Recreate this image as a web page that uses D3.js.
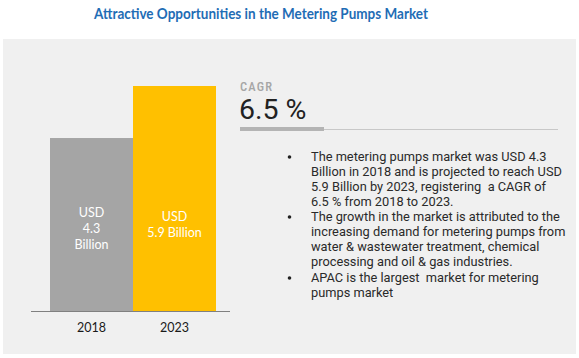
<!DOCTYPE html>
<html><head><meta charset="utf-8">
<script src="https://cdn.jsdelivr.net/npm/d3@7"></script>
<style>html,body{margin:0;padding:0;background:#fff;}svg{display:block;}</style>
</head><body>
<svg id="c" width="579" height="358"></svg>
<script>
const title = "Attractive Opportunities in the Metering Pumps Market";
const years = ["2018", "2023"];
const values = [4.3, 5.9];
const barLabels = [["USD", "4.3", "Billion"], ["USD", "5.9 Billion"]];
const barColors = ["#a5a5a5", "#ffc000"];
const cagrLabel = "CAGR";
const cagrValue = "6.5 %";
const bullets = [
  ["The metering pumps market was USD 4.3", "Billion in 2018 and is projected to reach USD", "5.9 Billion by 2023, registering  a CAGR of", "6.5 % from 2018 to 2023."],
  ["The growth in the market is attributed to the", "increasing demand for metering pumps from", "water & wastewater treatment, chemical", "processing and oil & gas industries."],
  ["APAC is the largest  market for metering", "pumps market"]
];

const svg = d3.select("#c");
svg.append("rect").attr("x", 3).attr("y", 39).attr("width", 573).attr("height", 315).attr("fill", "#f0f0f0");

svg.append("text").attr("x", 261).attr("y", 19).attr("text-anchor", "middle")
  .attr("font-family", "Lato, sans-serif").attr("font-weight", 700).attr("font-size", 14.5)
  .attr("fill", "#1f6db5").attr("textLength", 334).attr("lengthAdjust", "spacingAndGlyphs").text(title);

const x = d3.scaleBand().domain(years).range([50, 216]).padding(0);
const y = d3.scaleLinear().domain([-1.02, 5.9]).range([311, 86]);

svg.selectAll(".bar").data(values).enter().append("rect")
  .attr("x", (d, i) => x(years[i])).attr("width", x.bandwidth())
  .attr("y", d => y(d)).attr("height", d => y(-1.02) - y(d))
  .attr("fill", (d, i) => barColors[i]);

const xAxis = svg.append("g").attr("transform", "translate(0,311)")
  .call(d3.axisBottom(x).tickSize(0).tickPadding(12));
xAxis.select(".domain").attr("d", "M31,0.5H230").attr("stroke", "#808080");
xAxis.selectAll("text").attr("font-family", "Lato, sans-serif").attr("font-size", 12.5).attr("fill", "#1a1a1a");

barLabels.forEach((lines, i) => {
  const cx = x(years[i]) + x.bandwidth() / 2;
  const y0 = i === 0 ? 213 : 217;
  lines.forEach((t, j) => {
    svg.append("text").attr("x", cx).attr("y", y0 + j * 15.7).attr("dy", "0.35em")
      .attr("text-anchor", "middle").attr("font-family", "Lato, sans-serif")
      .attr("font-size", 12.5).attr("fill", "#fff").text(t);
  });
});

svg.append("text").attr("x", 240).attr("y", 91).attr("font-family", "Roboto Condensed, Liberation Sans Narrow, Roboto, sans-serif")
  .attr("font-size", 12.5).attr("fill", "#a6a6a6").attr("font-weight", 500).attr("textLength", 32).text(cagrLabel);
svg.append("text").attr("x", 239).attr("y", 118.5).attr("font-family", "Roboto, sans-serif")
  .attr("font-size", 28.5).attr("fill", "#222").text(cagrValue);
svg.append("line").attr("x1", 240).attr("x2", 558).attr("y1", 129.5).attr("y2", 129.5).attr("stroke", "#c8c8c8").attr("stroke-width", 1);
svg.append("rect").attr("x", 240).attr("y", 127).attr("width", 84).attr("height", 4).attr("fill", "#b4b4b4");

const starts = [157, 217, 278];
bullets.forEach((lines, i) => {
  svg.append("circle").attr("cx", 289.5).attr("cy", starts[i]).attr("r", 1.8).attr("fill", "#222");
  lines.forEach((t, j) => {
    svg.append("text").attr("x", 311).attr("y", starts[i] + j * 14.9).attr("dy", "0.35em")
      .attr("font-family", "Roboto, sans-serif").attr("font-size", 12.8).attr("fill", "#2a2a2a")
      .attr("xml:space", "preserve").style("white-space", "pre").text(t);
  });
});
</script>
</body></html>
